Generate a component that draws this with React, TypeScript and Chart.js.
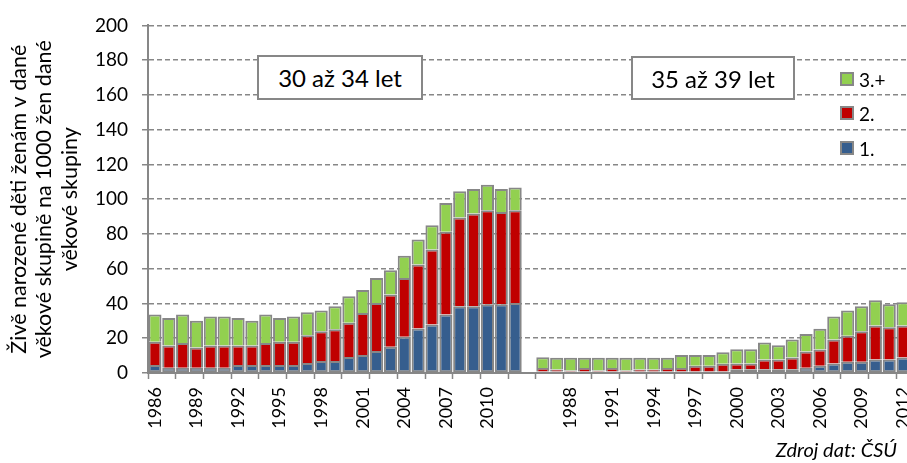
import React, { useEffect, useRef } from 'react';
import { Chart, registerables } from 'chart.js';

Chart.register(...registerables);

const years = [
  '1986', '1987', '1988', '1989', '1990', '1991', '1992', '1993', '1994',
  '1995', '1996', '1997', '1998', '1999', '2000', '2001', '2002', '2003',
  '2004', '2005', '2006', '2007', '2008', '2009', '2010', '2011', '2012',
];

// Age group 30–34
const first3034 = [4.6, 3.0, 3.0, 3.0, 3.0, 3.0, 4.6, 4.6, 4.6, 4.6, 4.6, 5.7, 6.9, 6.9, 9.2, 10.4, 12.7, 15.1, 20.9, 25.6, 27.9, 33.7, 38.4, 38.4, 39.5, 39.5, 40.3];
const second3034 = [13.4, 12.8, 14.2, 11.7, 12.8, 12.8, 11.2, 11.2, 12.6, 13.4, 13.4, 16.0, 17.1, 18.3, 19.7, 24.1, 27.6, 30.1, 33.8, 36.8, 43.1, 47.6, 51.0, 53.4, 54.2, 53.2, 53.4];
const third3034 = [15.7, 15.8, 16.5, 15.3, 16.7, 16.7, 15.8, 14.2, 16.5, 13.6, 14.5, 13.2, 12.0, 13.2, 15.3, 13.2, 14.4, 13.9, 12.8, 14.4, 14.0, 16.5, 15.2, 14.1, 14.6, 13.2, 13.0];

// Age group 35–39
const first3539 = [0.9, 0.9, 0.9, 0.9, 0.9, 0.9, 0.9, 0.9, 0.9, 0.9, 0.9, 0.9, 0.9, 0.9, 2.1, 2.1, 2.1, 2.1, 2.1, 3.0, 4.2, 5.4, 6.5, 6.5, 7.7, 7.7, 8.9];
const second3539 = [2.0, 1.1, 0.5, 2.0, 0.5, 2.0, 0.5, 1.1, 1.1, 2.0, 2.0, 3.2, 3.2, 4.4, 3.3, 3.3, 5.6, 5.6, 6.8, 9.4, 9.3, 13.9, 15.0, 17.5, 19.6, 18.6, 18.4];
const third3539 = [6.2, 6.8, 7.4, 5.9, 7.4, 5.9, 7.4, 6.8, 6.8, 5.9, 7.4, 6.2, 6.2, 6.6, 8.3, 8.3, 9.9, 8.3, 10.4, 10.0, 11.9, 13.2, 14.5, 14.4, 14.6, 13.2, 13.4];

const seriesNames = ['1.', '2.', '3.+'];
const seriesColors = ['#365E8E', '#C00000', '#92D050'];
const groupNames = ['30 až 34 let', '35 až 39 let'];
const yTitle = ['Živě narozené děti ženám v dané', 'věkové skupině na 1000 žen dané', 'věkové skupiny'];
const sourceText = 'Zdroj dat: ČSÚ';

const labels = [...years, '', ...years];
const join = (a: number[], b: number[]) => [...a, null, ...b];

const GRAY = '#878787';
const FONT = 'Lato, "Open Sans", sans-serif';

export default function App() {
  const ref = useRef<HTMLCanvasElement | null>(null);

  useEffect(() => {
    if (!ref.current) return;
    const data = [
      join(first3034, first3539),
      join(second3034, second3539),
      join(third3034, third3539),
    ];
    const chart = new Chart(ref.current, {
      type: 'bar',
      data: {
        labels,
        datasets: data.map((d, i) => ({
          label: seriesNames[i],
          data: d,
          backgroundColor: seriesColors[i],
          borderColor: GRAY,
          borderWidth: 2,
          borderSkipped: i === 0 ? false : 'bottom',
          barPercentage: 0.95,
          categoryPercentage: 1,
        })) as any,
      },
      options: {
        responsive: false,
        animation: false,
        devicePixelRatio: 1,
        layout: { padding: { top: 25, right: 2, left: 0, bottom: 0 } },
        plugins: {
          legend: { display: false },
          tooltip: { enabled: false },
        },
        scales: {
          x: {
            stacked: true,
            afterFit: (s: any) => {
              s.height = 90;
              s.paddingLeft = 0;
              s.paddingRight = 0;
            },
            grid: {
              display: true,
              drawOnChartArea: false,
              drawTicks: true,
              tickLength: 6,
              offset: true,
              tickWidth: 1.5,
              tickColor: (c: any) => (c.index % 2 === 0 ? GRAY : 'rgba(0,0,0,0)'),
              color: (c: any) => (c.index % 2 === 0 ? GRAY : 'rgba(0,0,0,0)'),
            },
            border: { display: true, color: GRAY, width: 2 },
            ticks: {
              autoSkip: false,
              maxRotation: 90,
              minRotation: 90,
              padding: 8,
              color: '#000',
              font: { family: FONT, size: 18 },
              callback: (_v: any, i: number) => (i % 3 === 0 ? labels[i] : ''),
            },
          },
          y: {
            stacked: true,
            min: 0,
            max: 200,
            afterFit: (s: any) => {
              s.width = 148;
            },
            ticks: {
              stepSize: 20,
              padding: 14,
              color: '#000',
              font: { family: FONT, size: 19 },
            },
            grid: {
              color: GRAY,
              lineWidth: 1.5,
              tickLength: 6,
              tickColor: GRAY,
              tickBorderDash: [],
            },
            border: { display: true, color: GRAY, width: 2, dash: [5, 3] },
            title: {
              display: true,
              text: yTitle,
              color: '#000',
              font: { family: FONT, size: 21.5, lineHeight: 25.5 / 21.5 },
              padding: { top: 6.25, bottom: 0 },
            },
          },
        },
      } as any,
    });
    return () => chart.destroy();
  }, []);

  const boxStyle = (left: number, top: number, width: number, height: number): React.CSSProperties => ({
    position: 'absolute',
    left,
    top,
    width,
    height,
    boxSizing: 'border-box',
    border: `2px solid ${GRAY}`,
    background: '#fff',
    display: 'flex',
    alignItems: 'center',
    justifyContent: 'center',
    fontFamily: FONT,
    fontSize: 24,
    color: '#000',
    whiteSpace: 'nowrap',
  });

  const legendOrder = [2, 1, 0];
  const legendY = [79, 113, 148];

  return (
    <div style={{ position: 'fixed', left: 0, top: 0, width: 907, height: 463, overflow: 'hidden', background: '#fff' }}>
      <canvas ref={ref} width={912} height={463} style={{ position: 'absolute', left: 0, top: 0, width: 912, height: 463 }} />
      <div style={boxStyle(257, 55, 166, 45)}>{groupNames[0]}</div>
      <div style={boxStyle(631, 56, 164, 44)}>{groupNames[1]}</div>
      {legendOrder.map((si, k) => (
        <div key={si} style={{ position: 'absolute', left: 840, top: legendY[k] - 12, height: 24, display: 'flex', alignItems: 'center', fontFamily: FONT, fontSize: 19, color: '#000' }}>
          <span style={{ display: 'inline-block', width: 14, height: 14, boxSizing: 'border-box', background: seriesColors[si], border: `2px solid ${GRAY}`, marginRight: 5 }} />
          <span>{seriesNames[si]}</span>
        </div>
      ))}
      <div style={{ position: 'absolute', right: 10, top: 439, lineHeight: '20px', fontFamily: FONT, fontStyle: 'italic', fontSize: 20, color: '#000', whiteSpace: 'nowrap' }}>{sourceText}</div>
    </div>
  );
}
